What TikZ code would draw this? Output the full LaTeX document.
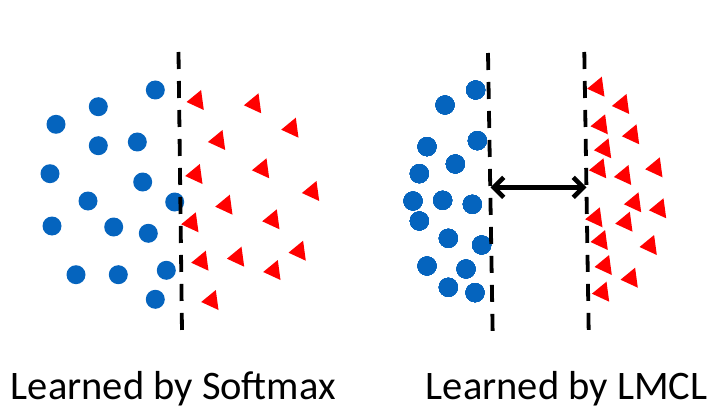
\documentclass[tikz,border=0pt]{standalone}
\usepackage{fontspec}
\setmainfont{Carlito}
\usetikzlibrary{arrows.meta}
\definecolor{dotblue}{RGB}{5,100,190}
\definecolor{trired}{RGB}{255,0,0}
\tikzset{
  dot/.style={circle,fill=dotblue,draw=none,minimum width=19pt,minimum height=18.5pt,inner sep=0pt},
  boundary/.style={line width=3.8pt,dash pattern=on 17pt off 12pt},
  margin/.style={line width=4.6pt,{Straight Barb[length=10pt,width=20pt]}-{Straight Barb[length=10pt,width=20pt]}},
  caption/.style={anchor=base west,inner sep=0pt,font=\fontsize{40.5}{48}\selectfont}
}
\newcommand\redtri[1]{\fill[trired] #1 +(-8.8,2) -- +(5.8,-10) -- +(8.5,10) -- cycle;}
\begin{document}
\begin{tikzpicture}[x=1pt,y=-1pt]
\useasboundingbox (0,0) rectangle (719,414);
% left panel dots
\foreach \x/\y [count=\i] in {155.3/90,98.3/106.7,56/124.3,98.3/145.7,137.3/142,50/173.7,142.7/182,88/201,174.7/202,52/226,113.7/227,148.3/233.3,76/274.7,118.3/274.7,166.3/270.3,155.3/299.3}
  \node[dot] (a\i) at (\x,\y) {};
% left boundary
\coordinate (l1t) at (178.5,52);
\coordinate (l1b) at (182,332);
\draw[boundary] (l1t) -- (l1b);
% left panel triangles
\foreach \x/\y in {195.3/100,252.7/103.3,290/127.7,216.7/140,194/174,260.7/168.3,310.7/191,224/204.7,190/222.3,271/219.3,200/260.7,235.7/256.7,297.3/250.7,272/270,210/300}
  \redtri{(\x,\y)}
% right panel dots
\foreach \x/\y [count=\i] in {475.7/90,445/105,477.3/140.7,427/146.7,455.3/164,419.3/173.7,413/201,442.7/200.3,472.3/204.3,419.3/221,448.3/238.3,481.7/245,427/266,466/269,448.3/287.3,475/292.7}
  \node[dot] (b\i) at (\x,\y) {};
% right boundaries
\coordinate (l2t) at (488,53);
\coordinate (l2b) at (492.7,335);
\coordinate (l3t) at (584.3,52);
\coordinate (l3b) at (588.7,332);
\draw[boundary] (l2t) -- (l2b);
\draw[boundary] (l3t) -- (l3b);
% right panel triangles
\foreach \x/\y in {596/86.7,620.7/104,599.3/124.3,630.7/134.3,602.7/148.3,597.7/168.3,622.7/175,654/167.3,632.7/202.3,657.7/208.3,594/217.3,624/221.7,599.3/240,648.3/245,603.3/265,629.3/277.7,600.7/291.7}
  \redtri{(\x,\y)}
% margin arrow
\coordinate (m1) at (490.5,187.3);
\coordinate (m2) at (586.5,187.3);
\draw[margin] (m1) -- (m2);
% captions
\node[caption] (c1) at (10.7,399) {Learned by Softmax};
\node[caption] (c2) at (425.7,399) {Learned by LMCL};
\end{tikzpicture}
\end{document}
